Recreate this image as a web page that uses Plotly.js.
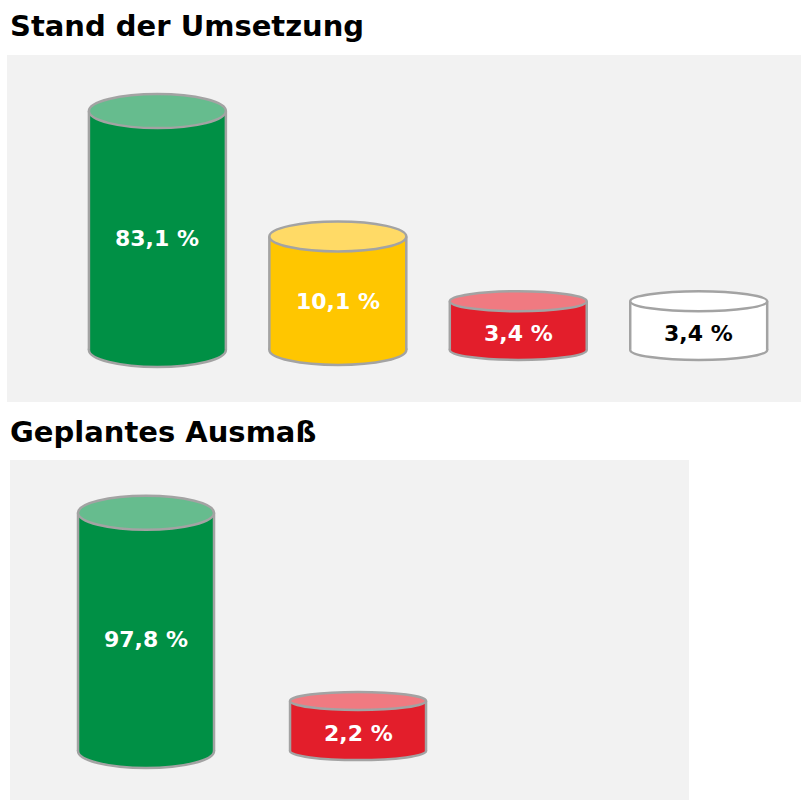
<!DOCTYPE html>
<html><head><meta charset="utf-8">
<script src="https://cdn.plot.ly/plotly-3.0.1.min.js"></script>
<style>html,body{margin:0;padding:0;background:#fff}#chart{width:801px;height:800px}</style>
</head><body><div id="chart"></div>
<script>
// ---- data ----
const titleTop = 'Stand der Umsetzung';
const titleBottom = 'Geplantes Ausmaß';
const catsTop = ['Umgesetzt', 'Teilweise umgesetzt', 'Nicht umgesetzt', 'Keine Angabe'];
const valuesTop = [83.1, 10.1, 3.4, 3.4];
const catsBottom = ['Umsetzung geplant', 'Keine Umsetzung geplant'];
const valuesBottom = [97.8, 2.2];

// ---- styles ----
const FONT = 'DejaVu Sans, Verdana, sans-serif';
const OUTLINE = '#a3a3a3';
const bodyTop = ['#009045', '#ffc600', '#e31e2b', '#ffffff'];
const capTop = ['#66bc8e', '#ffda66', '#f07a81', '#ffffff'];
const textTop = ['#ffffff', '#ffffff', '#ffffff', '#000000'];
const ryTop = [17, 15, 10, 10];
const bodyBottom = ['#009045', '#e31e2b'];
const capBottom = ['#66bc8e', '#f07a81'];
const textBottom = ['#ffffff', '#ffffff'];
const ryBottom = [17, 9];
const baseTop = 1.5, baseBottom = 0.8;   // axis reference level where cylinders stand
const widthTop = 0.759, widthBottom = 0.6415;

function fmt(v) { return v.toFixed(1).replace('.', ',') + ' %'; }

function barTrace(cats, vals, body, base, w, xa, ya) {
  return {
    type: 'bar', x: cats, y: vals.map(v => v - base), base: vals.map(() => base),
    xaxis: xa, yaxis: ya, width: w,
    marker: { color: body, line: { width: 0 } },
    hoverinfo: 'skip'
  };
}

function labels(vals, txt, base, xa, ya) {
  return vals.map((v, i) => ({
    text: fmt(v), xref: xa, yref: ya, x: i, y: (Math.log10(v) + Math.log10(base)) / 2,
    yshift: -8, showarrow: false, xanchor: 'center', yanchor: 'middle',
    font: { family: FONT, size: 22, weight: 700, color: txt[i] }
  }));
}

// ellipse caps: vertical extent offset in pixels through the axis' own pixel scale
function cylShapes(vals, body, cap, ry, base, w, xa, ya, axis) {
  const off = (v, px) => Math.pow(10, axis.p2l(axis.l2p(Math.log10(v)) + px));
  const shapes = [];
  vals.forEach((v, i) => {
    shapes.push({ type: 'circle', layer: 'below', xref: xa, yref: ya,
      x0: i - w / 2, x1: i + w / 2, y0: off(base, ry[i]), y1: off(base, -ry[i]),
      fillcolor: body[i], line: { color: OUTLINE, width: 2.5 } });
    [-1, 1].forEach(s => shapes.push({ type: 'line', layer: 'above', xref: xa, yref: ya,
      x0: i + s * w / 2, x1: i + s * w / 2, y0: base, y1: v,
      line: { color: OUTLINE, width: 2.5 } }));
    shapes.push({ type: 'circle', layer: 'above', xref: xa, yref: ya,
      x0: i - w / 2, x1: i + w / 2, y0: off(v, ry[i]), y1: off(v, -ry[i]),
      fillcolor: cap[i], line: { color: OUTLINE, width: 2.5 } });
  });
  return shapes;
}

const hidden = { visible: false, showgrid: false, zeroline: false, fixedrange: true };
const layout = {
  width: 801, height: 800,
  margin: { l: 0, r: 0, t: 0, b: 0 },
  paper_bgcolor: '#ffffff', plot_bgcolor: '#f2f2f2',
  showlegend: false,
  xaxis: Object.assign({ type: 'category', domain: [7 / 801, 1], range: [-0.8335, 3.567], anchor: 'y' }, hidden),
  yaxis: Object.assign({ type: 'log', domain: [0.4975, 0.93125], range: [-0.204, 2.329], anchor: 'x' }, hidden),
  xaxis2: Object.assign({ type: 'category', domain: [10 / 801, 689 / 801], range: [-0.6415, 2.561], anchor: 'y2' }, hidden),
  yaxis2: Object.assign({ type: 'log', domain: [0, 0.425], range: [-0.526, 2.453], anchor: 'x2' }, hidden),
  annotations: [
    { text: titleTop, xref: 'paper', yref: 'paper', x: 8 / 801, y: 1 - 26 / 800,
      xanchor: 'left', yanchor: 'middle', showarrow: false,
      font: { family: FONT, size: 29, weight: 700, color: '#000' } },
    { text: titleBottom, xref: 'paper', yref: 'paper', x: 8 / 801, y: 1 - 432 / 800,
      xanchor: 'left', yanchor: 'middle', showarrow: false,
      font: { family: FONT, size: 29, weight: 700, color: '#000' } }
  ].concat(labels(valuesTop, textTop, baseTop, 'x', 'y'))
   .concat(labels(valuesBottom, textBottom, baseBottom, 'x2', 'y2'))
};

const traces = [
  barTrace(catsTop, valuesTop, bodyTop, baseTop, widthTop, 'x', 'y'),
  barTrace(catsBottom, valuesBottom, bodyBottom, baseBottom, widthBottom, 'x2', 'y2')
];

Plotly.newPlot('chart', traces, layout, { displayModeBar: false, staticPlot: true }).then(gd => {
  const fl = gd._fullLayout;
  const shapes = cylShapes(valuesTop, bodyTop, capTop, ryTop, baseTop, widthTop, 'x', 'y', fl.yaxis)
    .concat(cylShapes(valuesBottom, bodyBottom, capBottom, ryBottom, baseBottom, widthBottom, 'x2', 'y2', fl.yaxis2));
  return Plotly.relayout(gd, { shapes: shapes });
});
</script>
</body></html>
